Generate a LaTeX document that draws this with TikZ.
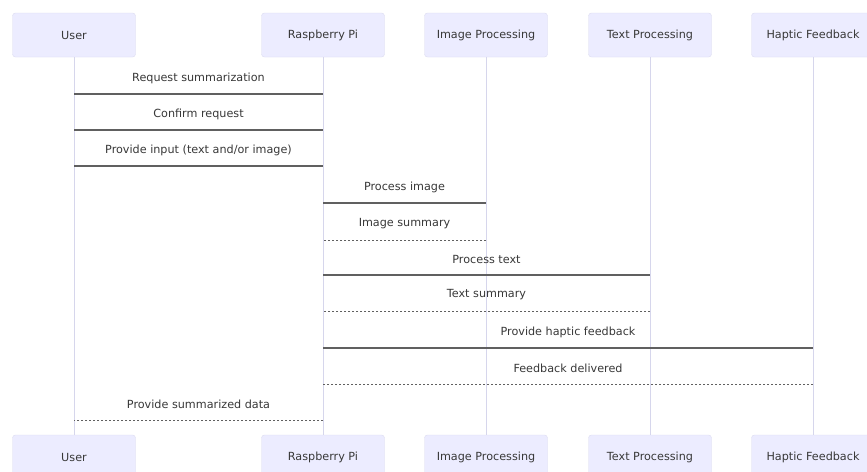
\documentclass[tikz,border=0pt]{standalone}
\usepackage{fontspec}
\setmainfont{DejaVu Sans}
\usepackage{tikz}
\usetikzlibrary{positioning,calc}
\definecolor{actorfill}{HTML}{ECECFF}
\definecolor{actorline}{HTML}{DCDCF0}
\definecolor{lifeline}{HTML}{D6D6EC}
\definecolor{msgline}{HTML}{606060}
\definecolor{ink}{HTML}{383838}

\begin{document}
\begin{tikzpicture}[x=1pt,y=-1pt, every node/.style={font=\fontsize{11.2}{13}\selectfont,text=ink,align=center},
  actor/.style={draw=actorline,fill=actorfill,rounded corners=3pt,minimum width=123pt,minimum height=44pt,inner sep=0pt},
  life/.style={draw=lifeline,line width=1pt},
  call/.style={draw=msgline,line width=1.1pt},
  reply/.style={draw=msgline,line width=1pt,dash pattern=on 2pt off 2pt}]
\useasboundingbox[fill=white] (0,0) rectangle (867,471);
% participants, top row
\node[actor] (user) at (74,35) {User};
\node[actor] (pi) at (323,35) {Raspberry Pi};
\node[actor] (img) at (486,35) {Image Processing};
\node[actor] (txt) at (650,35) {Text Processing};
\node[actor] (hap) at (813,35) {Haptic Feedback};
% participants, bottom row
\node[actor] (userB) at (74,457) {User};
\node[actor] (piB) at (323,457) {Raspberry Pi};
\node[actor] (imgB) at (486,457) {Image Processing};
\node[actor] (txtB) at (650,457) {Text Processing};
\node[actor] (hapB) at (813,457) {Haptic Feedback};
% lifelines
\draw[life] (user) -- (userB);
\draw[life] (pi) -- (piB);
\draw[life] (img) -- (imgB);
\draw[life] (txt) -- (txtB);
\draw[life] (hap) -- (hapB);
% message rows
\coordinate (m1) at (0,94);
\coordinate (m2) at (0,130);
\coordinate (m3) at (0,166);
\coordinate (m4) at (0,203);
\coordinate (m5) at (0,240);
\coordinate (m6) at (0,275);
\coordinate (m7) at (0,311);
\coordinate (m8) at (0,348);
\coordinate (m9) at (0,384);
\coordinate (m10) at (0,420);
\draw[call] (user |- m1) -- (pi |- m1) node[midway,yshift=16pt] {Request summarization};
\draw[call] (user |- m2) -- (pi |- m2) node[midway,yshift=16pt] {Confirm request};
\draw[call] (user |- m3) -- (pi |- m3) node[midway,yshift=16pt] {Provide input (text and/or image)};
\draw[call] (pi |- m4) -- (img |- m4) node[midway,yshift=16pt] {Process image};
\draw[reply] (img |- m5) -- (pi |- m5) node[midway,yshift=16pt] {Image summary};
\draw[call] (pi |- m6) -- (txt |- m6) node[midway,yshift=16pt] {Process text};
\draw[reply] (txt |- m7) -- (pi |- m7) node[midway,yshift=16pt] {Text summary};
\draw[call] (pi |- m8) -- (hap |- m8) node[midway,yshift=16pt] {Provide haptic feedback};
\draw[reply] (hap |- m9) -- (pi |- m9) node[midway,yshift=16pt] {Feedback delivered};
\draw[reply] (pi |- m10) -- (user |- m10) node[midway,yshift=16pt] {Provide summarized data};
\end{tikzpicture}
\end{document}
